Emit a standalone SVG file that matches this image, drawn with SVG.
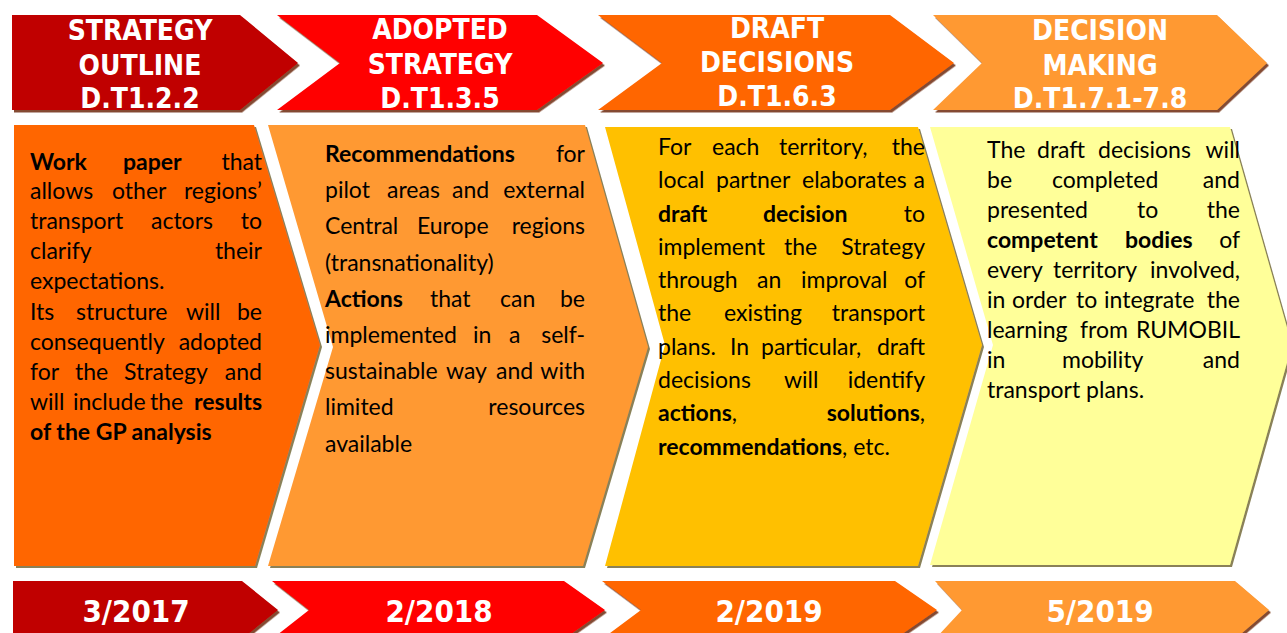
<svg xmlns="http://www.w3.org/2000/svg" width="1287" height="633" viewBox="0 0 1287 633">
  <defs>
    <filter id="shHead" x="-5%" y="-5%" width="115%" height="120%">
      <feDropShadow dx="2" dy="2.5" stdDeviation="0.6" flood-color="#6e2a08" flood-opacity="0.85"/>
    </filter>
    <filter id="shBody" x="-5%" y="-5%" width="115%" height="115%">
      <feDropShadow dx="2" dy="2" stdDeviation="0.6" flood-color="#7d7346" flood-opacity="0.9"/>
    </filter>
  </defs>
  <style>
    .hd { font-family: "DejaVu Sans Condensed", "DejaVu Sans", sans-serif; font-weight: bold; font-size: 28px; fill: #ffffff; text-anchor: middle; }
    .dt { font-family: "DejaVu Sans Condensed", "DejaVu Sans", sans-serif; font-weight: bold; font-size: 31px; fill: #ffffff; text-anchor: middle; }
    .tx { font-family: Lato, "Open Sans", sans-serif; font-size: 23px; fill: #000000; }
    .b { font-weight: bold; }
    .e { text-anchor: end; }
    .c1 { fill: #C00000; }
    .c2 { fill: #FF0000; }
    .c3 { fill: #FF6600; }
    .c4 { fill: #FF9933; }
    .c5 { fill: #FFC000; }
    .c6 { fill: #FFFF99; }
  </style>

  <rect width="1287" height="633" fill="#ffffff"/>

  <!-- header chevrons -->
  <g id="head-strategy-outline">
    <path class="c1" filter="url(#shHead)" d="M12,15 H240 L298,63 L240,110 H12 Z"/>
    <text class="hd" x="140" y="40">STRATEGY</text>
    <text class="hd" x="140" y="75">OUTLINE</text>
    <text class="hd" x="140" y="108">D.T1.2.2</text>
  </g>
  <g id="head-adopted-strategy">
    <path class="c2" filter="url(#shHead)" d="M277,15 H537 L603,63 L537,110 H277 L340,63 Z"/>
    <text class="hd" x="440" y="39">ADOPTED</text>
    <text class="hd" x="440" y="74">STRATEGY</text>
    <text class="hd" x="440" y="108">D.T1.3.5</text>
  </g>
  <g id="head-draft-decisions">
    <path class="c3" filter="url(#shHead)" d="M598,15 H890 L954,63 L890,110 H598 L662,63 Z"/>
    <text class="hd" x="777" y="38">DRAFT</text>
    <text class="hd" x="777" y="72">DECISIONS</text>
    <text class="hd" x="777" y="106">D.T1.6.3</text>
  </g>
  <g id="head-decision-making">
    <path class="c4" filter="url(#shHead)" d="M933,15 H1217 L1267,63 L1217,110 H933 L982,63 Z"/>
    <text class="hd" x="1100" y="40">DECISION</text>
    <text class="hd" x="1100" y="75">MAKING</text>
    <text class="hd" x="1100" y="108">D.T1.7.1-7.8</text>
  </g>

  <!-- body chevrons -->
  <g id="body-strategy-outline">
    <path class="c3" filter="url(#shBody)" d="M14,125 H254 L320,345 L255,566 H14 Z"/>
    <text class="tx" y="170"><tspan class="b" x="30">Work</tspan><tspan class="b" x="123">paper</tspan><tspan class="e" x="262">that</tspan></text>
    <text class="tx" y="199"><tspan x="30">allows</tspan><tspan x="112">other</tspan><tspan class="e" x="262">regions’</tspan></text>
    <text class="tx" y="229"><tspan x="30">transport</tspan><tspan x="151">actors</tspan><tspan class="e" x="262">to</tspan></text>
    <text class="tx" y="259"><tspan x="30">clarify</tspan><tspan class="e" x="262">their</tspan></text>
    <text class="tx" x="30" y="289">expectations.</text>
    <text class="tx" y="320"><tspan x="30">Its</tspan><tspan x="76">structure</tspan><tspan x="186">will</tspan><tspan class="e" x="262">be</tspan></text>
    <text class="tx" y="350"><tspan x="30">consequently</tspan><tspan class="e" x="262">adopted</tspan></text>
    <text class="tx" y="380"><tspan x="30">for</tspan><tspan x="75">the</tspan><tspan x="124">Strategy</tspan><tspan class="e" x="262">and</tspan></text>
    <text class="tx" y="410"><tspan x="30">will</tspan><tspan x="73">include</tspan><tspan x="150">the</tspan><tspan class="b e" x="262">results</tspan></text>
    <text class="tx b" x="30" y="440">of the GP analysis</text>
  </g>
  <g id="body-adopted-strategy">
    <path class="c4" filter="url(#shBody)" d="M268,125 H585 L648,347 L583,566 H268 L333,347 Z"/>
    <text class="tx" y="162"><tspan class="b" x="325">Recommendations</tspan><tspan class="e" x="585">for</tspan></text>
    <text class="tx" y="198"><tspan x="325">pilot</tspan><tspan x="387">areas</tspan><tspan x="452">and</tspan><tspan class="e" x="585">external</tspan></text>
    <text class="tx" y="234"><tspan x="325">Central</tspan><tspan x="417">Europe</tspan><tspan class="e" x="585">regions</tspan></text>
    <text class="tx" x="325" y="271">(transnationality)</text>
    <text class="tx" y="307"><tspan class="b" x="325">Actions</tspan><tspan x="430">that</tspan><tspan x="500">can</tspan><tspan class="e" x="585">be</tspan></text>
    <text class="tx" y="343"><tspan x="325">implemented</tspan><tspan x="473">in</tspan><tspan x="509">a</tspan><tspan class="e" x="585">self-</tspan></text>
    <text class="tx" y="379"><tspan x="325">sustainable</tspan><tspan x="446">way</tspan><tspan x="496">and</tspan><tspan class="e" x="585">with</tspan></text>
    <text class="tx" y="415"><tspan x="325">limited</tspan><tspan class="e" x="585">resources</tspan></text>
    <text class="tx" x="325" y="452">available</text>
  </g>
  <g id="body-draft-decisions">
    <path class="c5" filter="url(#shBody)" d="M605,127 H918 L982,345 L918,566 H605 L665,345 Z"/>
    <text class="tx" y="155"><tspan x="658">For</tspan><tspan x="712">each</tspan><tspan x="779">territory,</tspan><tspan class="e" x="925">the</tspan></text>
    <text class="tx" y="188"><tspan x="658">local</tspan><tspan x="716">partner</tspan><tspan x="802">elaborates</tspan><tspan class="e" x="925">a</tspan></text>
    <text class="tx" y="222"><tspan class="b" x="658">draft</tspan><tspan class="b" x="763">decision</tspan><tspan class="e" x="925">to</tspan></text>
    <text class="tx" y="255"><tspan x="658">implement</tspan><tspan x="784">the</tspan><tspan class="e" x="925">Strategy</tspan></text>
    <text class="tx" y="288"><tspan x="658">through</tspan><tspan x="757">an</tspan><tspan x="801">improval</tspan><tspan class="e" x="925">of</tspan></text>
    <text class="tx" y="321"><tspan x="658">the</tspan><tspan x="724">existing</tspan><tspan class="e" x="925">transport</tspan></text>
    <text class="tx" y="355"><tspan x="658">plans.</tspan><tspan x="730">In</tspan><tspan x="761">particular,</tspan><tspan class="e" x="925">draft</tspan></text>
    <text class="tx" y="388"><tspan x="658">decisions</tspan><tspan x="784">will</tspan><tspan class="e" x="925">identify</tspan></text>
    <text class="tx" y="421"><tspan class="b" x="658">actions</tspan><tspan>,</tspan><tspan class="b e" x="925">solutions</tspan><tspan class="e">,</tspan></text>
    <text class="tx" x="658" y="455"><tspan class="b">recommendations</tspan>, etc.</text>
  </g>
  <g id="body-decision-making">
    <path class="c6" filter="url(#shBody)" d="M930,127 H1230 L1292,345 L1230,565 H930 L993,345 Z"/>
    <text class="tx" y="158"><tspan x="987">The</tspan><tspan x="1037">draft</tspan><tspan x="1098">decisions</tspan><tspan class="e" x="1240">will</tspan></text>
    <text class="tx" y="188"><tspan x="987">be</tspan><tspan x="1052">completed</tspan><tspan class="e" x="1240">and</tspan></text>
    <text class="tx" y="218"><tspan x="987">presented</tspan><tspan x="1137">to</tspan><tspan class="e" x="1240">the</tspan></text>
    <text class="tx" y="248"><tspan class="b" x="987">competent</tspan><tspan class="b" x="1125">bodies</tspan><tspan class="e" x="1240">of</tspan></text>
    <text class="tx" y="278"><tspan x="987">every</tspan><tspan x="1053">territory</tspan><tspan class="e" x="1240">involved,</tspan></text>
    <text class="tx" y="308"><tspan x="987">in</tspan><tspan x="1012">order</tspan><tspan x="1076">to</tspan><tspan x="1104">integrate</tspan><tspan class="e" x="1240">the</tspan></text>
    <text class="tx" y="338"><tspan x="987">learning</tspan><tspan x="1080">from</tspan><tspan class="e" x="1240">RUMOBIL</tspan></text>
    <text class="tx" y="368"><tspan x="987">in</tspan><tspan x="1062">mobility</tspan><tspan class="e" x="1240">and</tspan></text>
    <text class="tx" x="987" y="398">transport plans.</text>
  </g>

  <!-- date chevrons -->
  <g id="date-2017-03">
    <path class="c1" filter="url(#shHead)" d="M13,581 H242 L278,610 L242,639 H13 Z"/>
    <text class="dt" x="136" y="622">3/2017</text>
  </g>
  <g id="date-2018-02">
    <path class="c2" filter="url(#shHead)" d="M272,581 H564 L605,610 L564,639 H272 L309,610 Z"/>
    <text class="dt" x="439" y="622">2/2018</text>
  </g>
  <g id="date-2019-02">
    <path class="c3" filter="url(#shHead)" d="M602,581 H895 L937,610 L895,639 H602 L641,610 Z"/>
    <text class="dt" x="769" y="622">2/2019</text>
  </g>
  <g id="date-2019-05">
    <path class="c4" filter="url(#shHead)" d="M935,581 H1235 L1269,610 L1235,639 H935 L962,610 Z"/>
    <text class="dt" x="1100" y="622">5/2019</text>
  </g>
</svg>
